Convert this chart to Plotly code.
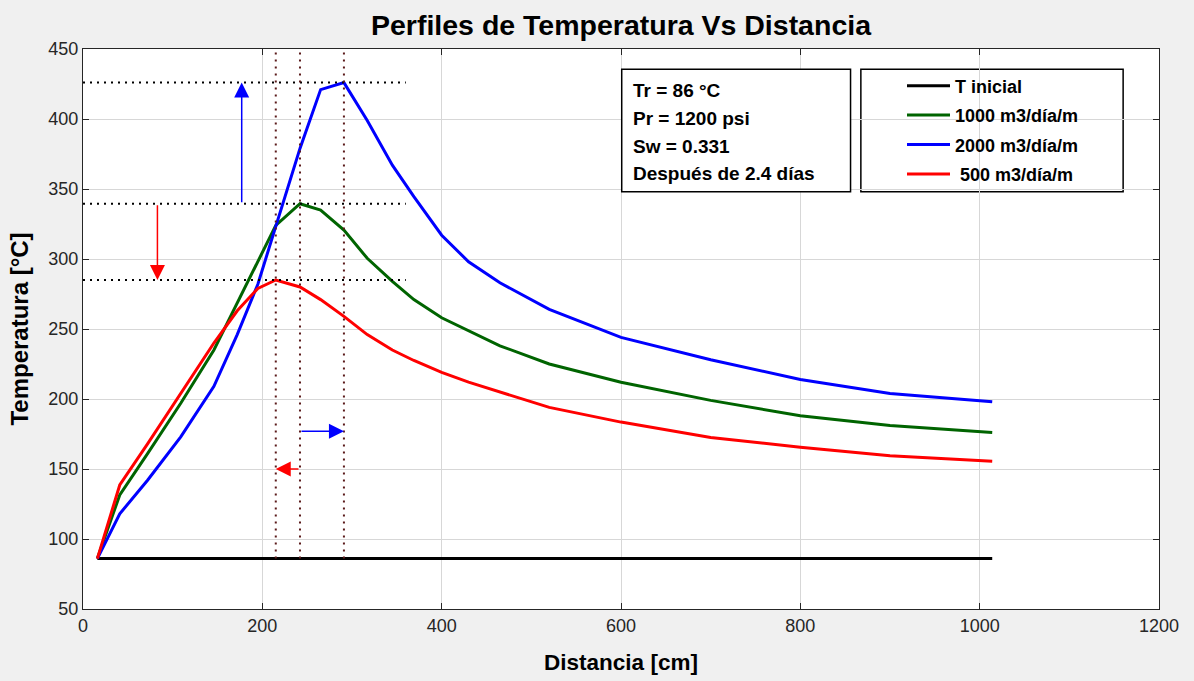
import numpy as np
import plotly.graph_objects as go

# ---------------- data ----------------
distancia = [16, 41, 72, 109, 146, 172, 195, 215, 242, 265, 291, 317, 345, 369,
             400, 430, 465, 520, 600, 700, 800, 900, 1014]
t_inicial = [86] * len(distancia)
t_1000 = [86, 131.5, 161, 197, 235, 269, 299, 324, 339.5, 335, 320.7, 300.5, 284,
          271, 258, 249, 238, 225, 212, 199, 188, 181, 176]
t_2000 = [86, 118, 142, 173, 209, 246, 282, 323, 379, 421, 426, 399, 367, 344.5,
          317, 298, 283, 264, 244, 228, 214, 204, 198]
t_500 = [86, 138.6, 168, 204, 240, 263, 279, 285, 280, 271, 259, 246, 235, 227.5,
         219, 212, 205, 194, 183.5, 172.5, 165.5, 159.5, 155.5]

series_names = ["T inicial", "1000 m3/día/m", "2000 m3/día/m", " 500 m3/día/m"]
series_vals = [t_inicial, t_1000, t_2000, t_500]
series_cols = ["#000000", "#006400", "#0000ff", "#ff0000"]

info_lines = ["Tr = 86 °C", "Pr = 1200 psi", "Sw = 0.331", "Después de 2.4 días"]

x_ticks = [0, 200, 400, 600, 800, 1000, 1200]
y_ticks = [50, 100, 150, 200, 250, 300, 350, 400, 450]

FONT = "Liberation Sans"

fig = go.Figure()
for i, (name, vals, col) in enumerate(zip(series_names, series_vals, series_cols)):
    fig.add_trace(go.Scatter(x=distancia, y=vals, mode="lines", name=name,
                             legendgroup=f"g{i}",
                             line=dict(color=col, width=3)))

# peaks derived from data
def peak(vals):
    k = int(np.argmax(vals))
    return distancia[k], vals[k]

px500, py500 = peak(t_500)
px1000, py1000 = peak(t_1000)
px2000, py2000 = peak(t_2000)

shapes = []
# horizontal dotted reference lines at the peaks
for yv in (py2000, py1000, py500):
    shapes.append(dict(type="line", xref="x", yref="y", x0=0, x1=360, y0=yv, y1=yv,
                       line=dict(color="#000000", width=2, dash="2px,5px")))
# vertical dotted lines at the peak positions
for xv in (px500, px1000, px2000):
    shapes.append(dict(type="line", xref="x", yref="y", x0=xv, x1=xv, y0=86, y1=450,
                       line=dict(color="#5a1a1a", width=2, dash="2px,5px")))
# info box
shapes.append(dict(type="rect", xref="x", yref="y", x0=600.8, x1=856, y0=348, y1=435.5,
                   line=dict(color="black", width=1.5), fillcolor="white", layer="above"))
# legend box
shapes.append(dict(type="rect", xref="x", yref="y", x0=867.5, x1=1160, y0=348, y1=435.5,
                   line=dict(color="black", width=1.5), fillcolor="white", layer="below"))

annotations = []
info_y = [420.2, 400.4, 380.4, 361.1]
for txt, yv in zip(info_lines, info_y):
    annotations.append(dict(x=611, y=yv, xref="x", yref="y", text=txt, showarrow=False,
                            xanchor="left", yanchor="middle",
                            font=dict(family=FONT, size=19, color="black", weight="bold")))

# arrows
def arrow(x0, y0, x1, y1, col):
    return dict(x=x1, y=y1, ax=x0, ay=y0, xref="x", yref="y", axref="x", ayref="y",
                text="", showarrow=True, arrowhead=2, arrowsize=2.0, arrowwidth=1.5,
                arrowcolor=col)

annotations.append(arrow(177, py1000, 177, py2000, "#0000ff"))
annotations.append(arrow(83, py1000, 83, py500, "#ff0000"))
annotations.append(arrow(px1000, 177, px2000, 177, "#0000ff"))
annotations.append(arrow(px1000, 150, px500, 150, "#ff0000"))

axis_common = dict(showline=True, linecolor="#262626", linewidth=1, mirror="ticks",
                   ticks="inside", ticklen=6, tickcolor="#262626",
                   showgrid=True, gridcolor="#d7d7d7", gridwidth=1, zeroline=False,
                   tickfont=dict(family=FONT, size=18, color="#262626"))

fig.update_layout(
    width=1194, height=681,
    margin=dict(l=83, r=35, t=49, b=72),
    paper_bgcolor="#f0f0f0", plot_bgcolor="white",
    title=dict(text="Perfiles de Temperatura Vs Distancia", x=0.5, xref="paper",
               y=1 - 25 / 681, yref="container", xanchor="center", yanchor="middle",
               font=dict(family=FONT, size=28.5, color="black", weight="bold")),
    xaxis=dict(range=[0, 1200], tickvals=x_ticks, ticktext=[str(v) for v in x_ticks],
               title=dict(text="Distancia [cm]", standoff=19,
                          font=dict(family=FONT, size=22.5, color="black", weight="bold")),
               **axis_common),
    yaxis=dict(range=[50, 450], tickvals=y_ticks, ticktext=[str(v) for v in y_ticks],
               title=dict(text="Temperatura [°C]", standoff=12,
                          font=dict(family=FONT, size=24, color="black", weight="bold")),
               **axis_common),
    showlegend=True,
    legend=dict(x=(902 - 83) / 1076, y=(609 - 67.5) / 560, xanchor="left", yanchor="top",
                bgcolor="rgba(0,0,0,0)", borderwidth=0, traceorder="grouped",
                tracegroupgap=3, itemwidth=43,
                font=dict(family=FONT, size=18, color="black", weight="bold")),
    shapes=shapes, annotations=annotations,
)

fig.write_html("out.html")
